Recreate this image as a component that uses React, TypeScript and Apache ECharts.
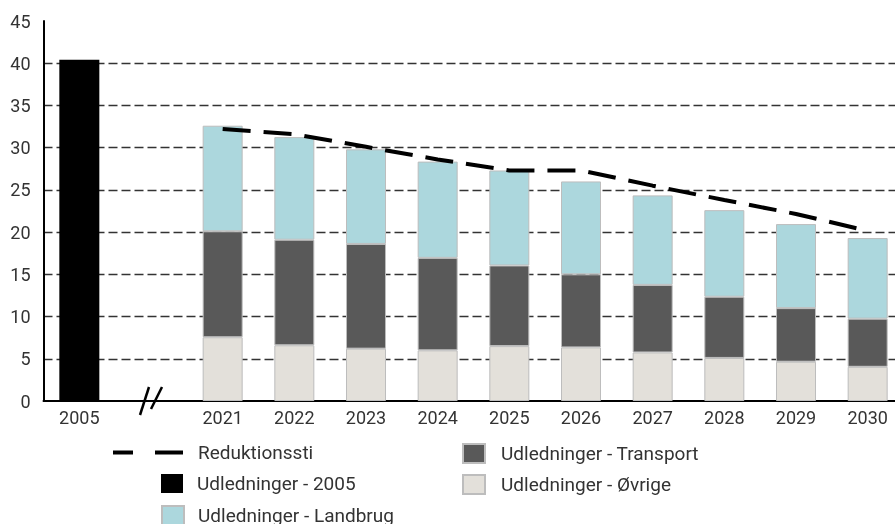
import React, { useEffect, useRef } from "react";
import * as echarts from "echarts";

const categories = ["2005", "", "2021", "2022", "2023", "2024", "2025", "2026", "2027", "2028", "2029", "2030"];
const emissions2005 = [40.4, null, null, null, null, null, null, null, null, null, null, null];
const ovrige = [null, null, 7.55, 6.6, 6.2, 6.0, 6.5, 6.35, 5.75, 5.1, 4.65, 4.05];
const transport = [null, null, 12.55, 12.5, 12.4, 10.95, 9.55, 8.65, 8.0, 7.25, 6.35, 5.7];
const landbrug = [null, null, 12.5, 12.15, 11.2, 11.4, 11.25, 11.0, 10.6, 10.25, 9.95, 9.55];
const reduktionssti = [null, null, 32.2, 31.6, 30.1, 28.6, 27.3, 27.3, 25.5, 23.8, 22.15, 20.15];
const yTicks = { min: 0, max: 45, interval: 5 };

const FONT = "Roboto";
const TXT = "#333";

export default function App() {
  const ref = useRef<HTMLDivElement>(null);
  useEffect(() => {
    if (!ref.current) return;
    const chart = echarts.init(ref.current, undefined, { renderer: "svg" });
    const barBorder = { borderColor: "#bdbdbd", borderWidth: 1 };
    const legendText = { fontFamily: FONT, fontSize: 19, color: TXT };
    chart.setOption({
      animation: false,
      textStyle: { fontFamily: FONT },
      grid: { left: 43.5, width: 860, top: 21, bottom: 123, containLabel: false },
      legend: [
        {
          data: ["Reduktionssti"],
          left: 113,
          top: 443,
          itemWidth: 70,
          itemHeight: 4,
          padding: 0,
          icon: "path://M0,0h20v4h-20z M42,0h28v4h-28z",
          itemStyle: { color: "#000" },
          textStyle: { ...legendText, padding: [0, 0, 0, 10] },
        },
        {
          data: ["Udledninger - 2005"],
          left: 161,
          top: 474,
          itemWidth: 22,
          itemHeight: 19,
          padding: 0,
          icon: "rect",
          textStyle: { ...legendText, padding: [0, 0, 0, 9] },
        },
        {
          data: ["Udledninger - Landbrug"],
          left: 161,
          top: 505,
          itemWidth: 22,
          itemHeight: 19,
          padding: 0,
          icon: "rect",
          textStyle: { ...legendText, padding: [0, 0, 0, 9] },
        },
        {
          data: ["Udledninger - Transport"],
          left: 462,
          top: 443,
          itemWidth: 22,
          itemHeight: 19,
          padding: 0,
          icon: "rect",
          textStyle: { ...legendText, padding: [0, 0, 0, 11] },
        },
        {
          data: ["Udledninger - Øvrige"],
          left: 462,
          top: 474,
          itemWidth: 22,
          itemHeight: 19,
          padding: 0,
          icon: "rect",
          textStyle: { ...legendText, padding: [0, 0, 0, 11] },
        },
      ],
      xAxis: {
        type: "category",
        data: categories,
        axisLine: { show: true, lineStyle: { color: "#000", width: 2 } },
        axisTick: { show: false },
        axisLabel: { color: TXT, fontSize: 18, fontFamily: FONT, margin: 7, interval: 0 },
        splitLine: { show: false },
      },
      yAxis: {
        type: "value",
        min: yTicks.min,
        max: yTicks.max,
        interval: yTicks.interval,
        axisLine: { show: true, lineStyle: { color: "#000", width: 2 } },
        axisTick: { show: false },
        axisLabel: { color: TXT, fontSize: 18, fontFamily: FONT, margin: 13 },
        splitLine: {
          show: true,
          showMinLine: false,
          showMaxLine: false,
          lineStyle: { color: "#333", width: 1.4, type: [9, 4] },
        },
      },
      series: [
        {
          name: "Udledninger - 2005",
          type: "bar",
          stack: "total",
          barWidth: 40,
          data: emissions2005,
          itemStyle: { color: "#000" },
        },
        {
          name: "Udledninger - Øvrige",
          type: "bar",
          stack: "total",
          barWidth: 40,
          data: ovrige,
          itemStyle: { color: "#e3e0da", ...barBorder },
        },
        {
          name: "Udledninger - Transport",
          type: "bar",
          stack: "total",
          barWidth: 40,
          data: transport,
          itemStyle: { color: "#595959", ...barBorder },
        },
        {
          name: "Udledninger - Landbrug",
          type: "bar",
          stack: "total",
          barWidth: 40,
          data: landbrug,
          itemStyle: { color: "#acd7dd", ...barBorder },
        },
        {
          name: "Reduktionssti",
          type: "line",
          data: reduktionssti,
          symbol: "none",
          itemStyle: { color: "#000" },
          lineStyle: { color: "#000", width: 4, type: [28, 13] },
          z: 5,
        },
      ],
      graphic: [
        { type: "line", shape: { x1: 140, y1: 415, x2: 149, y2: 387 }, style: { stroke: "#000", lineWidth: 2.5 } },
        { type: "line", shape: { x1: 151, y1: 409, x2: 162, y2: 387 }, style: { stroke: "#000", lineWidth: 2.5 } },
      ],
    });
    return () => chart.dispose();
  }, []);
  return (
    <div style={{ position: "fixed", left: 0, top: 0, width: 895, height: 524, overflow: "hidden" }}>
      <div ref={ref} style={{ width: 910, height: 524 }} />
    </div>
  );
}
